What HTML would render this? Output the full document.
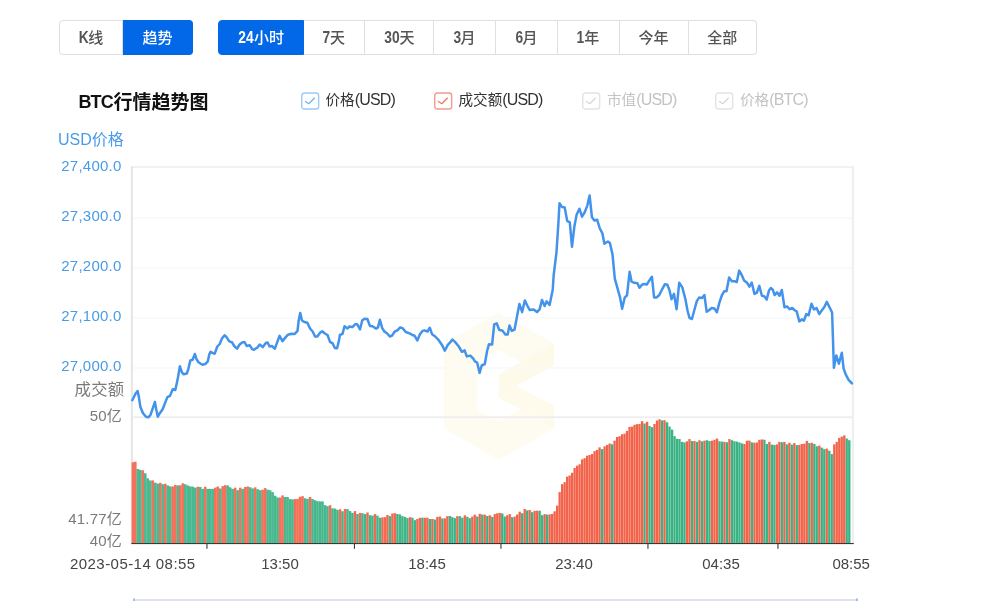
<!DOCTYPE html>
<html lang="zh-CN"><head><meta charset="utf-8"><title>BTC行情趋势图</title>
<style>
html,body{margin:0;padding:0;background:#fff;}
body{width:983px;height:601px;overflow:hidden;position:relative;font-family:"Liberation Sans","Noto Sans CJK SC",sans-serif;color:#333;}
.tabs{position:absolute;top:20px;height:35px;display:flex;}
.tabs div{flex:none;box-sizing:border-box;height:35px;line-height:34px;text-align:center;font-size:15px;font-weight:500;color:#555;border:1px solid #dcdfe6;border-left-width:0;background:#fff;white-space:nowrap;}
.tabs div:first-child{border-left-width:1px;border-radius:4px 0 0 4px;}
.tabs div:last-child{border-radius:0 4px 4px 0;}
.tabs div.on{background:#0368e7;color:#fff;border-color:#0368e7;}
.tabs b{display:inline-block;font-weight:bold;font-size:16px;transform:scaleX(.86);margin:0 -1px;vertical-align:0;}
#t1{left:59px;}
#t2{left:218px;}
.title{position:absolute;left:78.5px;top:88.5px;font-size:19px;font-weight:bold;color:#111;line-height:28px;white-space:nowrap;}
.title span{font-size:18px;letter-spacing:-0.9px;position:relative;top:-1px;margin-right:0.6px;}
.lg{position:absolute;top:92px;height:18px;line-height:18px;font-size:14.6px;white-space:nowrap;color:#333;}
.lg i{position:absolute;left:0;top:0;width:19px;height:19px;}
.lg i svg{position:absolute;left:0;top:0;}
.lg span{position:absolute;left:25px;top:-1.4px;}
.lg span u{text-decoration:none;font-size:16px;letter-spacing:-0.85px;}
.lg.off{color:#c3c3c3;}
.chart{position:absolute;left:0;top:0;}
</style></head><body>
<div class="tabs" id="t1"><div style="width:64px"><b>K</b>线</div><div class="on" style="width:70px">趋势</div></div>
<div class="tabs" id="t2"><div class="on" style="width:86px"><b>24</b>小时</div><div style="width:61px"><b>7</b>天</div><div style="width:69px"><b>30</b>天</div><div style="width:62px"><b>3</b>月</div><div style="width:62px"><b>6</b>月</div><div style="width:61.5px"><b>1</b>年</div><div style="width:69px">今年</div><div style="width:68.5px">全部</div></div>
<div class="title"><span>BTC</span>行情趋势图</div>
<div class="lg" style="left:300.5px"><i><svg width="19" height="19" viewBox="0 0 19 19"><rect x="0.75" y="0.95" width="16.9" height="16.1" rx="2.6" fill="#fff" stroke="#9ccaf8" stroke-width="1.4"/><path d="M4 9.3 L7.9 11.8 L13.7 5.7" fill="none" stroke="#6fb0f5" stroke-width="1.25"/></svg></i><span>价格<u>(USD)</u></span></div>
<div class="lg" style="left:433.5px"><i><svg width="19" height="19" viewBox="0 0 19 19"><rect x="0.75" y="0.95" width="16.9" height="16.1" rx="2.6" fill="#fff" stroke="#f59a8a" stroke-width="1.4"/><path d="M4 9.3 L7.9 11.8 L13.7 5.7" fill="none" stroke="#f2735c" stroke-width="1.25"/></svg></i><span>成交额<u>(USD)</u></span></div>
<div class="lg off" style="left:582px"><i><svg width="19" height="19" viewBox="0 0 19 19"><rect x="0.75" y="0.95" width="16.9" height="16.1" rx="2.6" fill="#fff" stroke="#e3e3e3" stroke-width="1.4"/><path d="M4 9.3 L7.9 11.8 L13.7 5.7" fill="none" stroke="#d6d6d6" stroke-width="1.25"/></svg></i><span>市值<u>(USD)</u></span></div>
<div class="lg off" style="left:715px"><i><svg width="19" height="19" viewBox="0 0 19 19"><rect x="0.75" y="0.95" width="16.9" height="16.1" rx="2.6" fill="#fff" stroke="#e3e3e3" stroke-width="1.4"/><path d="M4 9.3 L7.9 11.8 L13.7 5.7" fill="none" stroke="#d6d6d6" stroke-width="1.25"/></svg></i><span>价格<u>(BTC)</u></span></div>
<svg class="chart" width="983" height="601" viewBox="0 0 983 601">
<g>
<g>
<polygon points="498.6,311.9 554,343.4 554,428.5 498.6,460.1 444.2,428.5 444.2,343.4" fill="#fefcf0"/>
<polygon points="498.8,374.3 520.7,362.1 554,343.4 554,365.6 516.3,385.7 498.8,397.9" fill="#fdfae9"/>
<polygon points="498.8,397.9 516.3,385.7 554,405.8 554,428.5 520.7,409.3" fill="#fefbed"/>
<polygon points="444.2,343.4 477,361.2 477,410.1 444.2,428.5" fill="#fefcf1"/>
<polygon points="477,361.2 498.8,349.9 520.7,362.1 498.8,374.3 498.8,397.9 520.7,409.3 498.8,421.5 477,410.1" fill="#ffffff"/>
<polygon points="516.3,385.7 555,365.2 555,406.2" fill="#ffffff"/>
</g>
<rect x="131" y="166.2" width="723" height="1.9" fill="#f1f1f1"/>
<rect x="133" y="216.9" width="720" height="2" fill="#fafafa"/>
<rect x="133" y="266.9" width="720" height="2" fill="#fafafa"/>
<rect x="133" y="316.9" width="720" height="2" fill="#fafafa"/>
<rect x="133" y="366.9" width="720" height="2" fill="#fafafa"/>
<rect x="133" y="416.3" width="720" height="1.9" fill="#eeeeee"/>
<rect x="851.8" y="166.2" width="2.2" height="377.5" fill="#eeefef"/>
<rect x="130.8" y="166.2" width="2.2" height="377.5" fill="#e7e7e7"/>
<rect x="131.60" y="462.3" width="2.50" height="81.1" fill="#f4725b"/><rect x="134.05" y="462.3" width="1.05" height="81.1" fill="#f4725b"/><rect x="134.10" y="461.7" width="2.50" height="81.7" fill="#f4725b"/><rect x="136.54" y="469.0" width="1.05" height="74.4" fill="#f4725b"/><rect x="136.59" y="469.0" width="2.50" height="74.4" fill="#4cb990"/><rect x="139.04" y="469.9" width="1.05" height="73.5" fill="#4cb990"/><rect x="139.09" y="469.9" width="2.50" height="73.5" fill="#4cb990"/><rect x="141.54" y="470.3" width="1.05" height="73.1" fill="#4cb990"/><rect x="141.59" y="470.3" width="2.50" height="73.1" fill="#f4725b"/><rect x="144.03" y="473.3" width="1.05" height="70.1" fill="#f4725b"/><rect x="144.08" y="473.3" width="2.50" height="70.1" fill="#4cb990"/><rect x="146.53" y="478.4" width="1.05" height="65.0" fill="#4cb990"/><rect x="146.58" y="478.4" width="2.50" height="65.0" fill="#4cb990"/><rect x="149.03" y="480.6" width="1.05" height="62.8" fill="#4cb990"/><rect x="149.08" y="480.6" width="2.50" height="62.8" fill="#4cb990"/><rect x="151.52" y="480.6" width="1.05" height="62.8" fill="#4cb990"/><rect x="151.57" y="480.4" width="2.50" height="63.0" fill="#f4725b"/><rect x="154.02" y="482.8" width="1.05" height="60.6" fill="#f4725b"/><rect x="154.07" y="482.8" width="2.50" height="60.6" fill="#4cb990"/><rect x="156.52" y="483.7" width="1.05" height="59.7" fill="#4cb990"/><rect x="156.57" y="483.7" width="2.50" height="59.7" fill="#4cb990"/><rect x="159.01" y="483.7" width="1.05" height="59.7" fill="#4cb990"/><rect x="159.06" y="482.8" width="2.50" height="60.6" fill="#f4725b"/><rect x="161.51" y="484.3" width="1.05" height="59.1" fill="#f4725b"/><rect x="161.56" y="484.3" width="2.50" height="59.1" fill="#4cb990"/><rect x="164.00" y="484.3" width="1.05" height="59.1" fill="#4cb990"/><rect x="164.05" y="483.7" width="2.50" height="59.7" fill="#f4725b"/><rect x="166.50" y="485.5" width="1.05" height="57.9" fill="#f4725b"/><rect x="166.55" y="485.5" width="2.50" height="57.9" fill="#4cb990"/><rect x="169.00" y="486.5" width="1.05" height="56.9" fill="#4cb990"/><rect x="169.05" y="486.5" width="2.50" height="56.9" fill="#4cb990"/><rect x="171.49" y="486.5" width="1.05" height="56.9" fill="#4cb990"/><rect x="171.54" y="486.5" width="2.50" height="56.9" fill="#f4725b"/><rect x="173.99" y="486.5" width="1.05" height="56.9" fill="#f4725b"/><rect x="174.04" y="484.9" width="2.50" height="58.5" fill="#f4725b"/><rect x="176.49" y="485.5" width="1.05" height="57.9" fill="#f4725b"/><rect x="176.54" y="485.5" width="2.50" height="57.9" fill="#4cb990"/><rect x="178.98" y="485.5" width="1.05" height="57.9" fill="#4cb990"/><rect x="179.03" y="485.3" width="2.50" height="58.1" fill="#f4725b"/><rect x="181.48" y="485.3" width="1.05" height="58.1" fill="#f4725b"/><rect x="181.53" y="483.3" width="2.50" height="60.1" fill="#f4725b"/><rect x="183.98" y="484.3" width="1.05" height="59.1" fill="#f4725b"/><rect x="184.03" y="484.3" width="2.50" height="59.1" fill="#4cb990"/><rect x="186.47" y="485.5" width="1.05" height="57.9" fill="#4cb990"/><rect x="186.52" y="485.5" width="2.50" height="57.9" fill="#4cb990"/><rect x="188.97" y="486.5" width="1.05" height="56.9" fill="#4cb990"/><rect x="189.02" y="486.5" width="2.50" height="56.9" fill="#4cb990"/><rect x="191.47" y="486.7" width="1.05" height="56.7" fill="#4cb990"/><rect x="191.52" y="486.7" width="2.50" height="56.7" fill="#4cb990"/><rect x="193.96" y="487.7" width="1.05" height="55.7" fill="#4cb990"/><rect x="194.01" y="487.7" width="2.50" height="55.7" fill="#4cb990"/><rect x="196.46" y="487.7" width="1.05" height="55.7" fill="#4cb990"/><rect x="196.51" y="486.7" width="2.50" height="56.7" fill="#f4725b"/><rect x="198.96" y="487.0" width="1.05" height="56.4" fill="#f4725b"/><rect x="199.01" y="487.0" width="2.50" height="56.4" fill="#4cb990"/><rect x="201.45" y="488.9" width="1.05" height="54.5" fill="#4cb990"/><rect x="201.50" y="488.9" width="2.50" height="54.5" fill="#4cb990"/><rect x="203.95" y="488.9" width="1.05" height="54.5" fill="#4cb990"/><rect x="204.00" y="486.7" width="2.50" height="56.7" fill="#f4725b"/><rect x="206.45" y="488.9" width="1.05" height="54.5" fill="#f4725b"/><rect x="206.50" y="488.9" width="2.50" height="54.5" fill="#4cb990"/><rect x="208.94" y="488.9" width="1.05" height="54.5" fill="#4cb990"/><rect x="208.99" y="488.9" width="2.50" height="54.5" fill="#4cb990"/><rect x="211.44" y="488.9" width="1.05" height="54.5" fill="#4cb990"/><rect x="211.49" y="488.9" width="2.50" height="54.5" fill="#4cb990"/><rect x="213.94" y="488.9" width="1.05" height="54.5" fill="#4cb990"/><rect x="213.99" y="487.7" width="2.50" height="55.7" fill="#f4725b"/><rect x="216.43" y="487.7" width="1.05" height="55.7" fill="#f4725b"/><rect x="216.48" y="486.5" width="2.50" height="56.9" fill="#f4725b"/><rect x="218.93" y="488.6" width="1.05" height="54.8" fill="#f4725b"/><rect x="218.98" y="488.6" width="2.50" height="54.8" fill="#4cb990"/><rect x="221.42" y="488.6" width="1.05" height="54.8" fill="#4cb990"/><rect x="221.47" y="486.1" width="2.50" height="57.3" fill="#f4725b"/><rect x="223.92" y="486.1" width="1.05" height="57.3" fill="#f4725b"/><rect x="223.97" y="485.2" width="2.50" height="58.2" fill="#f4725b"/><rect x="226.42" y="485.5" width="1.05" height="57.9" fill="#f4725b"/><rect x="226.47" y="485.5" width="2.50" height="57.9" fill="#4cb990"/><rect x="228.91" y="487.4" width="1.05" height="56.0" fill="#4cb990"/><rect x="228.96" y="487.4" width="2.50" height="56.0" fill="#4cb990"/><rect x="231.41" y="488.9" width="1.05" height="54.5" fill="#4cb990"/><rect x="231.46" y="488.9" width="2.50" height="54.5" fill="#4cb990"/><rect x="233.91" y="488.9" width="1.05" height="54.5" fill="#4cb990"/><rect x="233.96" y="487.7" width="2.50" height="55.7" fill="#f4725b"/><rect x="236.40" y="490.2" width="1.05" height="53.2" fill="#f4725b"/><rect x="236.45" y="490.2" width="2.50" height="53.2" fill="#4cb990"/><rect x="238.90" y="490.2" width="1.05" height="53.2" fill="#4cb990"/><rect x="238.95" y="487.7" width="2.50" height="55.7" fill="#f4725b"/><rect x="241.40" y="488.9" width="1.05" height="54.5" fill="#f4725b"/><rect x="241.45" y="488.9" width="2.50" height="54.5" fill="#4cb990"/><rect x="243.89" y="488.9" width="1.05" height="54.5" fill="#4cb990"/><rect x="243.94" y="487.0" width="2.50" height="56.4" fill="#f4725b"/><rect x="246.39" y="487.0" width="1.05" height="56.4" fill="#f4725b"/><rect x="246.44" y="486.5" width="2.50" height="56.9" fill="#f4725b"/><rect x="248.89" y="487.3" width="1.05" height="56.1" fill="#f4725b"/><rect x="248.94" y="487.3" width="2.50" height="56.1" fill="#4bb98f"/><rect x="251.38" y="488.5" width="1.05" height="54.9" fill="#4bb98f"/><rect x="251.43" y="488.5" width="2.50" height="54.9" fill="#4bb98f"/><rect x="253.88" y="488.5" width="1.05" height="54.9" fill="#4bb98f"/><rect x="253.93" y="487.3" width="2.50" height="56.1" fill="#f4715a"/><rect x="256.38" y="489.3" width="1.05" height="54.1" fill="#f4715a"/><rect x="256.43" y="489.3" width="2.50" height="54.1" fill="#4bb98f"/><rect x="258.87" y="490.3" width="1.05" height="53.1" fill="#4bb98f"/><rect x="258.92" y="490.3" width="2.50" height="53.1" fill="#4bb98f"/><rect x="261.37" y="490.3" width="1.05" height="53.1" fill="#4bb98f"/><rect x="261.42" y="489.7" width="2.50" height="53.7" fill="#f4715a"/><rect x="263.87" y="489.7" width="1.05" height="53.7" fill="#f4715a"/><rect x="263.92" y="488.1" width="2.50" height="55.3" fill="#f4715a"/><rect x="266.36" y="489.7" width="1.05" height="53.7" fill="#f4715a"/><rect x="266.41" y="489.7" width="2.50" height="53.7" fill="#4ab98f"/><rect x="268.86" y="490.3" width="1.05" height="53.1" fill="#4ab98f"/><rect x="268.91" y="490.3" width="2.50" height="53.1" fill="#4ab98f"/><rect x="271.36" y="492.1" width="1.05" height="51.3" fill="#4ab98f"/><rect x="271.41" y="492.1" width="2.50" height="51.3" fill="#4ab98e"/><rect x="273.85" y="495.8" width="1.05" height="47.6" fill="#4ab98e"/><rect x="273.90" y="495.8" width="2.50" height="47.6" fill="#49b88e"/><rect x="276.35" y="497.6" width="1.05" height="45.8" fill="#49b88e"/><rect x="276.40" y="497.6" width="2.50" height="45.8" fill="#49b88e"/><rect x="278.85" y="497.6" width="1.05" height="45.8" fill="#49b88e"/><rect x="278.90" y="497.6" width="2.50" height="45.8" fill="#f47059"/><rect x="281.34" y="497.6" width="1.05" height="45.8" fill="#f47059"/><rect x="281.39" y="495.4" width="2.50" height="48.0" fill="#f47058"/><rect x="283.84" y="497.0" width="1.05" height="46.4" fill="#f47058"/><rect x="283.89" y="497.0" width="2.50" height="46.4" fill="#49b88e"/><rect x="286.33" y="497.0" width="1.05" height="46.4" fill="#49b88e"/><rect x="286.38" y="497.0" width="2.50" height="46.4" fill="#49b88e"/><rect x="288.83" y="499.1" width="1.05" height="44.3" fill="#49b88e"/><rect x="288.88" y="499.1" width="2.50" height="44.3" fill="#48b88e"/><rect x="291.33" y="499.5" width="1.05" height="43.9" fill="#48b88e"/><rect x="291.38" y="499.5" width="2.50" height="43.9" fill="#48b88d"/><rect x="293.82" y="499.5" width="1.05" height="43.9" fill="#48b88d"/><rect x="293.87" y="499.1" width="2.50" height="44.3" fill="#f46f58"/><rect x="296.32" y="499.1" width="1.05" height="44.3" fill="#f46f58"/><rect x="296.37" y="498.9" width="2.50" height="44.5" fill="#f46f57"/><rect x="298.82" y="498.9" width="1.05" height="44.5" fill="#f46f57"/><rect x="298.87" y="496.8" width="2.50" height="46.6" fill="#f46f57"/><rect x="301.31" y="496.8" width="1.05" height="46.6" fill="#f46f57"/><rect x="301.36" y="496.2" width="2.50" height="47.2" fill="#f46f57"/><rect x="303.81" y="498.3" width="1.05" height="45.1" fill="#f46f57"/><rect x="303.86" y="498.3" width="2.50" height="45.1" fill="#47b88d"/><rect x="306.31" y="498.9" width="1.05" height="44.5" fill="#47b88d"/><rect x="306.36" y="498.9" width="2.50" height="44.5" fill="#47b88d"/><rect x="308.80" y="498.9" width="1.05" height="44.5" fill="#47b88d"/><rect x="308.85" y="497.0" width="2.50" height="46.4" fill="#f46e57"/><rect x="311.30" y="499.1" width="1.05" height="44.3" fill="#f46e57"/><rect x="311.35" y="499.1" width="2.50" height="44.3" fill="#47b78d"/><rect x="313.80" y="500.3" width="1.05" height="43.1" fill="#47b78d"/><rect x="313.85" y="500.3" width="2.50" height="43.1" fill="#46b78c"/><rect x="316.29" y="501.3" width="1.05" height="42.1" fill="#46b78c"/><rect x="316.34" y="501.3" width="2.50" height="42.1" fill="#46b78c"/><rect x="318.79" y="501.5" width="1.05" height="41.9" fill="#46b78c"/><rect x="318.84" y="501.5" width="2.50" height="41.9" fill="#46b78c"/><rect x="321.29" y="501.5" width="1.05" height="41.9" fill="#46b78c"/><rect x="321.34" y="501.5" width="2.50" height="41.9" fill="#46b78c"/><rect x="323.78" y="505.2" width="1.05" height="38.2" fill="#46b78c"/><rect x="323.83" y="505.2" width="2.50" height="38.2" fill="#46b78c"/><rect x="326.28" y="506.2" width="1.05" height="37.2" fill="#46b78c"/><rect x="326.33" y="506.2" width="2.50" height="37.2" fill="#46b78c"/><rect x="328.78" y="506.2" width="1.05" height="37.2" fill="#46b78c"/><rect x="328.83" y="505.2" width="2.50" height="38.2" fill="#f46d55"/><rect x="331.27" y="508.4" width="1.05" height="35.0" fill="#f46d55"/><rect x="331.32" y="508.4" width="2.50" height="35.0" fill="#45b78c"/><rect x="333.77" y="508.6" width="1.05" height="34.8" fill="#45b78c"/><rect x="333.82" y="508.6" width="2.50" height="34.8" fill="#45b78b"/><rect x="336.27" y="509.9" width="1.05" height="33.5" fill="#45b78b"/><rect x="336.32" y="509.9" width="2.50" height="33.5" fill="#45b78b"/><rect x="338.76" y="509.9" width="1.05" height="33.5" fill="#45b78b"/><rect x="338.81" y="509.2" width="2.50" height="34.2" fill="#f46c54"/><rect x="341.26" y="511.3" width="1.05" height="32.1" fill="#f46c54"/><rect x="341.31" y="511.3" width="2.50" height="32.1" fill="#44b68b"/><rect x="343.75" y="511.3" width="1.05" height="32.1" fill="#44b68b"/><rect x="343.80" y="509.0" width="2.50" height="34.4" fill="#f36c54"/><rect x="346.25" y="509.2" width="1.05" height="34.2" fill="#f36c54"/><rect x="346.30" y="509.2" width="2.50" height="34.2" fill="#44b68b"/><rect x="348.75" y="511.1" width="1.05" height="32.3" fill="#44b68b"/><rect x="348.80" y="511.1" width="2.50" height="32.3" fill="#44b68b"/><rect x="351.24" y="512.9" width="1.05" height="30.5" fill="#44b68b"/><rect x="351.29" y="512.9" width="2.50" height="30.5" fill="#44b68b"/><rect x="353.74" y="512.9" width="1.05" height="30.5" fill="#44b68b"/><rect x="353.79" y="511.1" width="2.50" height="32.3" fill="#f36b53"/><rect x="356.24" y="514.1" width="1.05" height="29.3" fill="#f36b53"/><rect x="356.29" y="514.1" width="2.50" height="29.3" fill="#43b68a"/><rect x="358.73" y="514.1" width="1.05" height="29.3" fill="#43b68a"/><rect x="358.78" y="512.9" width="2.50" height="30.5" fill="#f36b53"/><rect x="361.23" y="513.3" width="1.05" height="30.1" fill="#f36b53"/><rect x="361.28" y="513.3" width="2.50" height="30.1" fill="#43b68a"/><rect x="363.73" y="514.1" width="1.05" height="29.3" fill="#43b68a"/><rect x="363.78" y="514.1" width="2.50" height="29.3" fill="#43b68a"/><rect x="366.22" y="514.1" width="1.05" height="29.3" fill="#43b68a"/><rect x="366.27" y="512.5" width="2.50" height="30.9" fill="#f36b52"/><rect x="368.72" y="515.3" width="1.05" height="28.1" fill="#f36b52"/><rect x="368.77" y="515.3" width="2.50" height="28.1" fill="#42b68a"/><rect x="371.22" y="515.7" width="1.05" height="27.7" fill="#42b68a"/><rect x="371.27" y="515.7" width="2.50" height="27.7" fill="#42b68a"/><rect x="373.71" y="515.7" width="1.05" height="27.7" fill="#42b68a"/><rect x="373.76" y="514.1" width="2.50" height="29.3" fill="#f36a52"/><rect x="376.21" y="515.7" width="1.05" height="27.7" fill="#f36a52"/><rect x="376.26" y="515.7" width="2.50" height="27.7" fill="#42b589"/><rect x="378.71" y="517.8" width="1.05" height="25.6" fill="#42b589"/><rect x="378.76" y="517.8" width="2.50" height="25.6" fill="#41b589"/><rect x="381.20" y="517.8" width="1.05" height="25.6" fill="#41b589"/><rect x="381.25" y="517.4" width="2.50" height="26.0" fill="#f36a51"/><rect x="383.70" y="517.4" width="1.05" height="26.0" fill="#f36a51"/><rect x="383.75" y="517.2" width="2.50" height="26.2" fill="#f36a51"/><rect x="386.20" y="517.2" width="1.05" height="26.2" fill="#f36a51"/><rect x="386.25" y="515.0" width="2.50" height="28.4" fill="#f36951"/><rect x="388.69" y="516.2" width="1.05" height="27.2" fill="#f36951"/><rect x="388.74" y="516.2" width="2.50" height="27.2" fill="#41b589"/><rect x="391.19" y="516.2" width="1.05" height="27.2" fill="#41b589"/><rect x="391.24" y="513.5" width="2.50" height="29.9" fill="#f36951"/><rect x="393.69" y="513.5" width="1.05" height="29.9" fill="#f36951"/><rect x="393.74" y="513.3" width="2.50" height="30.1" fill="#f36950"/><rect x="396.18" y="514.1" width="1.05" height="29.3" fill="#f36950"/><rect x="396.23" y="514.1" width="2.50" height="29.3" fill="#40b588"/><rect x="398.68" y="514.5" width="1.05" height="28.9" fill="#40b588"/><rect x="398.73" y="514.5" width="2.50" height="28.9" fill="#40b588"/><rect x="401.17" y="516.2" width="1.05" height="27.2" fill="#40b588"/><rect x="401.23" y="516.2" width="2.50" height="27.2" fill="#40b588"/><rect x="403.67" y="516.9" width="1.05" height="26.5" fill="#40b588"/><rect x="403.72" y="516.9" width="2.50" height="26.5" fill="#3fb588"/><rect x="406.17" y="518.2" width="1.05" height="25.2" fill="#3fb588"/><rect x="406.22" y="518.2" width="2.50" height="25.2" fill="#3fb488"/><rect x="408.66" y="518.2" width="1.05" height="25.2" fill="#3fb488"/><rect x="408.71" y="517.2" width="2.50" height="26.2" fill="#f3684f"/><rect x="411.16" y="517.8" width="1.05" height="25.6" fill="#f3684f"/><rect x="411.21" y="517.8" width="2.50" height="25.6" fill="#3fb488"/><rect x="413.66" y="520.2" width="1.05" height="23.2" fill="#3fb488"/><rect x="413.71" y="520.2" width="2.50" height="23.2" fill="#3fb488"/><rect x="416.15" y="520.2" width="1.05" height="23.2" fill="#3fb488"/><rect x="416.20" y="519.0" width="2.50" height="24.4" fill="#f3674f"/><rect x="418.65" y="519.0" width="1.05" height="24.4" fill="#f3674f"/><rect x="418.70" y="517.8" width="2.50" height="25.6" fill="#f3674f"/><rect x="421.15" y="517.8" width="1.05" height="25.6" fill="#f3674f"/><rect x="421.20" y="517.8" width="2.50" height="25.6" fill="#3eb487"/><rect x="423.64" y="517.8" width="1.05" height="25.6" fill="#3eb487"/><rect x="423.69" y="517.8" width="2.50" height="25.6" fill="#f3674e"/><rect x="426.14" y="517.8" width="1.05" height="25.6" fill="#f3674e"/><rect x="426.19" y="517.8" width="2.50" height="25.6" fill="#f3674e"/><rect x="428.64" y="519.0" width="1.05" height="24.4" fill="#f3674e"/><rect x="428.69" y="519.0" width="2.50" height="24.4" fill="#3db487"/><rect x="431.13" y="519.0" width="1.05" height="24.4" fill="#3db487"/><rect x="431.18" y="519.0" width="2.50" height="24.4" fill="#f3664e"/><rect x="433.63" y="519.6" width="1.05" height="23.8" fill="#f3664e"/><rect x="433.68" y="519.6" width="2.50" height="23.8" fill="#3db486"/><rect x="436.13" y="519.6" width="1.05" height="23.8" fill="#3db486"/><rect x="436.18" y="516.9" width="2.50" height="26.5" fill="#f3664d"/><rect x="438.62" y="516.9" width="1.05" height="26.5" fill="#f3664d"/><rect x="438.67" y="516.6" width="2.50" height="26.8" fill="#f3664d"/><rect x="441.12" y="518.6" width="1.05" height="24.8" fill="#f3664d"/><rect x="441.17" y="518.6" width="2.50" height="24.8" fill="#3cb386"/><rect x="443.62" y="518.6" width="1.05" height="24.8" fill="#3cb386"/><rect x="443.67" y="518.4" width="2.50" height="25.0" fill="#f3664d"/><rect x="446.11" y="518.4" width="1.05" height="25.0" fill="#f3664d"/><rect x="446.16" y="516.2" width="2.50" height="27.2" fill="#f3654c"/><rect x="448.61" y="516.2" width="1.05" height="27.2" fill="#f3654c"/><rect x="448.66" y="516.0" width="2.50" height="27.4" fill="#3cb386"/><rect x="451.11" y="517.2" width="1.05" height="26.2" fill="#3cb386"/><rect x="451.16" y="517.2" width="2.50" height="26.2" fill="#3bb386"/><rect x="453.60" y="518.2" width="1.05" height="25.2" fill="#3bb386"/><rect x="453.65" y="518.2" width="2.50" height="25.2" fill="#3bb385"/><rect x="456.10" y="518.2" width="1.05" height="25.2" fill="#3bb385"/><rect x="456.15" y="516.2" width="2.50" height="27.2" fill="#f3654c"/><rect x="458.60" y="516.2" width="1.05" height="27.2" fill="#f3654c"/><rect x="458.65" y="516.2" width="2.50" height="27.2" fill="#3bb385"/><rect x="461.09" y="517.8" width="1.05" height="25.6" fill="#3bb385"/><rect x="461.14" y="517.8" width="2.50" height="25.6" fill="#3bb385"/><rect x="463.59" y="517.8" width="1.05" height="25.6" fill="#3bb385"/><rect x="463.64" y="515.3" width="2.50" height="28.1" fill="#f3644b"/><rect x="466.08" y="516.9" width="1.05" height="26.5" fill="#f3644b"/><rect x="466.13" y="516.9" width="2.50" height="26.5" fill="#3ab285"/><rect x="468.58" y="518.2" width="1.05" height="25.2" fill="#3ab285"/><rect x="468.63" y="518.2" width="2.50" height="25.2" fill="#3ab285"/><rect x="471.08" y="518.2" width="1.05" height="25.2" fill="#3ab285"/><rect x="471.13" y="516.6" width="2.50" height="26.8" fill="#f3644b"/><rect x="473.57" y="516.6" width="1.05" height="26.8" fill="#f3644b"/><rect x="473.62" y="514.7" width="2.50" height="28.7" fill="#f3644a"/><rect x="476.07" y="516.6" width="1.05" height="26.8" fill="#f3644a"/><rect x="476.12" y="516.6" width="2.50" height="26.8" fill="#39b284"/><rect x="478.57" y="516.6" width="1.05" height="26.8" fill="#39b284"/><rect x="478.62" y="513.8" width="2.50" height="29.6" fill="#f3634a"/><rect x="481.06" y="514.7" width="1.05" height="28.7" fill="#f3634a"/><rect x="481.11" y="514.7" width="2.50" height="28.7" fill="#39b284"/><rect x="483.56" y="514.7" width="1.05" height="28.7" fill="#39b284"/><rect x="483.61" y="514.7" width="2.50" height="28.7" fill="#f3634a"/><rect x="486.06" y="516.0" width="1.05" height="27.4" fill="#f3634a"/><rect x="486.11" y="516.0" width="2.50" height="27.4" fill="#39b284"/><rect x="488.55" y="516.0" width="1.05" height="27.4" fill="#39b284"/><rect x="488.60" y="515.3" width="2.50" height="28.1" fill="#f3634a"/><rect x="491.05" y="516.9" width="1.05" height="26.5" fill="#f3634a"/><rect x="491.10" y="516.9" width="2.50" height="26.5" fill="#39b284"/><rect x="493.55" y="516.9" width="1.05" height="26.5" fill="#39b284"/><rect x="493.60" y="514.1" width="2.50" height="29.3" fill="#f3634a"/><rect x="496.04" y="514.1" width="1.05" height="29.3" fill="#f3634a"/><rect x="496.09" y="513.3" width="2.50" height="30.1" fill="#f3634a"/><rect x="498.54" y="513.3" width="1.05" height="30.1" fill="#f3634a"/><rect x="498.59" y="512.9" width="2.50" height="30.5" fill="#f3634a"/><rect x="501.04" y="513.5" width="1.05" height="29.9" fill="#f3634a"/><rect x="501.09" y="513.5" width="2.50" height="29.9" fill="#39b284"/><rect x="503.53" y="516.6" width="1.05" height="26.8" fill="#39b284"/><rect x="503.58" y="516.6" width="2.50" height="26.8" fill="#39b284"/><rect x="506.03" y="516.6" width="1.05" height="26.8" fill="#39b284"/><rect x="506.08" y="515.3" width="2.50" height="28.1" fill="#f3634a"/><rect x="508.53" y="515.3" width="1.05" height="28.1" fill="#f3634a"/><rect x="508.58" y="514.1" width="2.50" height="29.3" fill="#f3634a"/><rect x="511.02" y="517.2" width="1.05" height="26.2" fill="#f3634a"/><rect x="511.07" y="517.2" width="2.50" height="26.2" fill="#39b284"/><rect x="513.52" y="517.2" width="1.05" height="26.2" fill="#39b284"/><rect x="513.57" y="516.6" width="2.50" height="26.8" fill="#f3634a"/><rect x="516.02" y="516.6" width="1.05" height="26.8" fill="#f3634a"/><rect x="516.07" y="514.5" width="2.50" height="28.9" fill="#f3634a"/><rect x="518.51" y="514.5" width="1.05" height="28.9" fill="#f3634a"/><rect x="518.56" y="511.7" width="2.50" height="31.7" fill="#f3634a"/><rect x="521.01" y="513.3" width="1.05" height="30.1" fill="#f3634a"/><rect x="521.06" y="513.3" width="2.50" height="30.1" fill="#39b284"/><rect x="523.50" y="513.3" width="1.05" height="30.1" fill="#39b284"/><rect x="523.55" y="509.0" width="2.50" height="34.4" fill="#f3634a"/><rect x="526.00" y="510.5" width="1.05" height="32.9" fill="#f3634a"/><rect x="526.05" y="510.5" width="2.50" height="32.9" fill="#39b284"/><rect x="528.50" y="510.5" width="1.05" height="32.9" fill="#39b284"/><rect x="528.55" y="510.1" width="2.50" height="33.3" fill="#f3634a"/><rect x="530.99" y="512.3" width="1.05" height="31.1" fill="#f3634a"/><rect x="531.04" y="512.3" width="2.50" height="31.1" fill="#39b284"/><rect x="533.49" y="512.3" width="1.05" height="31.1" fill="#39b284"/><rect x="533.54" y="510.8" width="2.50" height="32.6" fill="#f3634a"/><rect x="535.99" y="510.8" width="1.05" height="32.6" fill="#f3634a"/><rect x="536.04" y="510.8" width="2.50" height="32.6" fill="#f3634a"/><rect x="538.48" y="510.8" width="1.05" height="32.6" fill="#f3634a"/><rect x="538.53" y="510.8" width="2.50" height="32.6" fill="#39b284"/><rect x="540.98" y="515.3" width="1.05" height="28.1" fill="#39b284"/><rect x="541.03" y="515.3" width="2.50" height="28.1" fill="#39b284"/><rect x="543.48" y="515.3" width="1.05" height="28.1" fill="#39b284"/><rect x="543.53" y="514.1" width="2.50" height="29.3" fill="#f3634a"/><rect x="545.97" y="514.7" width="1.05" height="28.7" fill="#f3634a"/><rect x="546.02" y="514.7" width="2.50" height="28.7" fill="#39b284"/><rect x="548.47" y="514.7" width="1.05" height="28.7" fill="#39b284"/><rect x="548.52" y="514.5" width="2.50" height="28.9" fill="#f3634a"/><rect x="550.97" y="514.5" width="1.05" height="28.9" fill="#f3634a"/><rect x="551.02" y="513.9" width="2.50" height="29.5" fill="#f3634a"/><rect x="553.46" y="513.9" width="1.05" height="29.5" fill="#f3634a"/><rect x="553.51" y="511.3" width="2.50" height="32.1" fill="#f3634a"/><rect x="555.96" y="511.3" width="1.05" height="32.1" fill="#f3634a"/><rect x="556.01" y="505.6" width="2.50" height="37.8" fill="#f3634a"/><rect x="558.46" y="505.6" width="1.05" height="37.8" fill="#f3634a"/><rect x="558.51" y="492.1" width="2.50" height="51.3" fill="#f3634a"/><rect x="560.95" y="492.1" width="1.05" height="51.3" fill="#f3634a"/><rect x="561.00" y="484.2" width="2.50" height="59.2" fill="#f3634a"/><rect x="563.45" y="484.2" width="1.05" height="59.2" fill="#f3634a"/><rect x="563.50" y="482.2" width="2.50" height="61.2" fill="#f3634a"/><rect x="565.95" y="482.2" width="1.05" height="61.2" fill="#f3634a"/><rect x="566.00" y="476.7" width="2.50" height="66.7" fill="#f3634a"/><rect x="568.44" y="476.7" width="1.05" height="66.7" fill="#f3634a"/><rect x="568.49" y="475.5" width="2.50" height="67.9" fill="#f3634a"/><rect x="570.94" y="475.5" width="1.05" height="67.9" fill="#f3634a"/><rect x="570.99" y="472.8" width="2.50" height="70.6" fill="#f3634a"/><rect x="573.44" y="472.8" width="1.05" height="70.6" fill="#f3634a"/><rect x="573.49" y="467.9" width="2.50" height="75.5" fill="#f3634a"/><rect x="575.93" y="467.9" width="1.05" height="75.5" fill="#f3634a"/><rect x="575.98" y="465.7" width="2.50" height="77.7" fill="#f3634a"/><rect x="578.43" y="465.7" width="1.05" height="77.7" fill="#f3634a"/><rect x="578.48" y="464.3" width="2.50" height="79.1" fill="#f3634a"/><rect x="580.93" y="464.3" width="1.05" height="79.1" fill="#f3634a"/><rect x="580.98" y="459.4" width="2.50" height="84.0" fill="#f3634a"/><rect x="583.42" y="459.4" width="1.05" height="84.0" fill="#f3634a"/><rect x="583.47" y="458.2" width="2.50" height="85.2" fill="#f3634a"/><rect x="585.92" y="458.2" width="1.05" height="85.2" fill="#f3634a"/><rect x="585.97" y="455.7" width="2.50" height="87.7" fill="#f3634a"/><rect x="588.41" y="455.7" width="1.05" height="87.7" fill="#f3634a"/><rect x="588.46" y="455.0" width="2.50" height="88.4" fill="#f3634a"/><rect x="590.91" y="455.0" width="1.05" height="88.4" fill="#f3634a"/><rect x="590.96" y="454.1" width="2.50" height="89.3" fill="#f3634a"/><rect x="593.41" y="454.1" width="1.05" height="89.3" fill="#f3634a"/><rect x="593.46" y="451.1" width="2.50" height="92.3" fill="#f3634a"/><rect x="595.90" y="451.1" width="1.05" height="92.3" fill="#f3634a"/><rect x="595.95" y="449.9" width="2.50" height="93.5" fill="#f3634a"/><rect x="598.40" y="449.9" width="1.05" height="93.5" fill="#f3634a"/><rect x="598.45" y="447.4" width="2.50" height="96.0" fill="#f3634a"/><rect x="600.90" y="449.2" width="1.05" height="94.2" fill="#f3634a"/><rect x="600.95" y="449.2" width="2.50" height="94.2" fill="#39b284"/><rect x="603.39" y="449.2" width="1.05" height="94.2" fill="#39b284"/><rect x="603.44" y="446.4" width="2.50" height="97.0" fill="#f3634a"/><rect x="605.89" y="446.4" width="1.05" height="97.0" fill="#f3634a"/><rect x="605.94" y="445.0" width="2.50" height="98.4" fill="#f3634a"/><rect x="608.39" y="445.0" width="1.05" height="98.4" fill="#f3634a"/><rect x="608.44" y="443.5" width="2.50" height="99.9" fill="#f3634a"/><rect x="610.88" y="444.4" width="1.05" height="99.0" fill="#f3634a"/><rect x="610.93" y="444.4" width="2.50" height="99.0" fill="#39b284"/><rect x="613.38" y="444.4" width="1.05" height="99.0" fill="#39b284"/><rect x="613.43" y="440.7" width="2.50" height="102.7" fill="#f3634a"/><rect x="615.88" y="440.7" width="1.05" height="102.7" fill="#f3634a"/><rect x="615.93" y="437.0" width="2.50" height="106.4" fill="#f3634a"/><rect x="618.37" y="437.0" width="1.05" height="106.4" fill="#f3634a"/><rect x="618.42" y="436.2" width="2.50" height="107.2" fill="#f3634a"/><rect x="620.87" y="436.2" width="1.05" height="107.2" fill="#f3634a"/><rect x="620.92" y="434.3" width="2.50" height="109.1" fill="#f3634a"/><rect x="623.37" y="434.3" width="1.05" height="109.1" fill="#f3634a"/><rect x="623.42" y="433.7" width="2.50" height="109.7" fill="#f3634a"/><rect x="625.86" y="433.7" width="1.05" height="109.7" fill="#f3634a"/><rect x="625.91" y="430.9" width="2.50" height="112.5" fill="#f3634a"/><rect x="628.36" y="430.9" width="1.05" height="112.5" fill="#f3634a"/><rect x="628.41" y="426.9" width="2.50" height="116.5" fill="#f3634a"/><rect x="630.86" y="426.9" width="1.05" height="116.5" fill="#f3634a"/><rect x="630.91" y="426.7" width="2.50" height="116.7" fill="#f3634a"/><rect x="633.35" y="426.7" width="1.05" height="116.7" fill="#f3634a"/><rect x="633.40" y="424.8" width="2.50" height="118.6" fill="#f3634a"/><rect x="635.85" y="424.8" width="1.05" height="118.6" fill="#f3634a"/><rect x="635.90" y="424.2" width="2.50" height="119.2" fill="#f3634a"/><rect x="638.35" y="424.2" width="1.05" height="119.2" fill="#f3634a"/><rect x="638.40" y="424.0" width="2.50" height="119.4" fill="#f3634a"/><rect x="640.84" y="424.0" width="1.05" height="119.4" fill="#f3634a"/><rect x="640.89" y="421.2" width="2.50" height="122.2" fill="#f3634a"/><rect x="643.34" y="423.6" width="1.05" height="119.8" fill="#f3634a"/><rect x="643.39" y="423.6" width="2.50" height="119.8" fill="#39b284"/><rect x="645.83" y="423.6" width="1.05" height="119.8" fill="#39b284"/><rect x="645.88" y="421.8" width="2.50" height="121.6" fill="#f3634a"/><rect x="648.33" y="426.0" width="1.05" height="117.4" fill="#f3634a"/><rect x="648.38" y="426.0" width="2.50" height="117.4" fill="#39b284"/><rect x="650.83" y="427.3" width="1.05" height="116.1" fill="#39b284"/><rect x="650.88" y="427.3" width="2.50" height="116.1" fill="#39b284"/><rect x="653.32" y="427.3" width="1.05" height="116.1" fill="#39b284"/><rect x="653.37" y="424.0" width="2.50" height="119.4" fill="#f3634a"/><rect x="655.82" y="424.0" width="1.05" height="119.4" fill="#f3634a"/><rect x="655.87" y="420.5" width="2.50" height="122.9" fill="#f3634a"/><rect x="658.32" y="420.5" width="1.05" height="122.9" fill="#f3634a"/><rect x="658.37" y="419.3" width="2.50" height="124.1" fill="#f3634a"/><rect x="660.81" y="420.5" width="1.05" height="122.9" fill="#f3634a"/><rect x="660.86" y="420.5" width="2.50" height="122.9" fill="#39b284"/><rect x="663.31" y="420.5" width="1.05" height="122.9" fill="#39b284"/><rect x="663.36" y="420.3" width="2.50" height="123.1" fill="#f3634a"/><rect x="665.81" y="422.4" width="1.05" height="121.0" fill="#f3634a"/><rect x="665.86" y="422.4" width="2.50" height="121.0" fill="#39b284"/><rect x="668.30" y="426.7" width="1.05" height="116.7" fill="#39b284"/><rect x="668.35" y="426.7" width="2.50" height="116.7" fill="#39b284"/><rect x="670.80" y="429.7" width="1.05" height="113.7" fill="#39b284"/><rect x="670.85" y="429.7" width="2.50" height="113.7" fill="#39b284"/><rect x="673.30" y="436.2" width="1.05" height="107.2" fill="#39b284"/><rect x="673.35" y="436.2" width="2.50" height="107.2" fill="#39b284"/><rect x="675.79" y="438.9" width="1.05" height="104.5" fill="#39b284"/><rect x="675.84" y="438.9" width="2.50" height="104.5" fill="#39b284"/><rect x="678.29" y="439.1" width="1.05" height="104.3" fill="#39b284"/><rect x="678.34" y="439.1" width="2.50" height="104.3" fill="#39b284"/><rect x="680.79" y="441.9" width="1.05" height="101.5" fill="#39b284"/><rect x="680.84" y="441.9" width="2.50" height="101.5" fill="#39b284"/><rect x="683.28" y="442.5" width="1.05" height="100.9" fill="#39b284"/><rect x="683.33" y="442.5" width="2.50" height="100.9" fill="#39b284"/><rect x="685.78" y="442.5" width="1.05" height="100.9" fill="#39b284"/><rect x="685.83" y="441.3" width="2.50" height="102.1" fill="#f3634a"/><rect x="688.28" y="441.3" width="1.05" height="102.1" fill="#f3634a"/><rect x="688.33" y="439.1" width="2.50" height="104.3" fill="#f3634a"/><rect x="690.77" y="441.1" width="1.05" height="102.3" fill="#f3634a"/><rect x="690.82" y="441.1" width="2.50" height="102.3" fill="#39b284"/><rect x="693.27" y="441.1" width="1.05" height="102.3" fill="#39b284"/><rect x="693.32" y="441.1" width="2.50" height="102.3" fill="#f3634a"/><rect x="695.77" y="441.9" width="1.05" height="101.5" fill="#f3634a"/><rect x="695.82" y="441.9" width="2.50" height="101.5" fill="#39b284"/><rect x="698.26" y="441.9" width="1.05" height="101.5" fill="#39b284"/><rect x="698.31" y="440.3" width="2.50" height="103.1" fill="#f3634a"/><rect x="700.76" y="441.5" width="1.05" height="101.9" fill="#f3634a"/><rect x="700.81" y="441.5" width="2.50" height="101.9" fill="#39b284"/><rect x="703.25" y="441.5" width="1.05" height="101.9" fill="#39b284"/><rect x="703.30" y="440.7" width="2.50" height="102.7" fill="#f3634a"/><rect x="705.75" y="440.7" width="1.05" height="102.7" fill="#f3634a"/><rect x="705.80" y="440.3" width="2.50" height="103.1" fill="#39b284"/><rect x="708.25" y="441.1" width="1.05" height="102.3" fill="#39b284"/><rect x="708.30" y="441.1" width="2.50" height="102.3" fill="#39b284"/><rect x="710.74" y="441.1" width="1.05" height="102.3" fill="#39b284"/><rect x="710.79" y="440.7" width="2.50" height="102.7" fill="#f3634a"/><rect x="713.24" y="440.7" width="1.05" height="102.7" fill="#f3634a"/><rect x="713.29" y="439.8" width="2.50" height="103.6" fill="#f3634a"/><rect x="715.74" y="439.8" width="1.05" height="103.6" fill="#f3634a"/><rect x="715.79" y="438.6" width="2.50" height="104.8" fill="#f3634a"/><rect x="718.23" y="441.3" width="1.05" height="102.1" fill="#f3634a"/><rect x="718.28" y="441.3" width="2.50" height="102.1" fill="#39b284"/><rect x="720.73" y="441.7" width="1.05" height="101.7" fill="#39b284"/><rect x="720.78" y="441.7" width="2.50" height="101.7" fill="#39b284"/><rect x="723.23" y="441.9" width="1.05" height="101.5" fill="#39b284"/><rect x="723.28" y="441.9" width="2.50" height="101.5" fill="#f3634a"/><rect x="725.72" y="442.3" width="1.05" height="101.1" fill="#f3634a"/><rect x="725.77" y="442.3" width="2.50" height="101.1" fill="#39b284"/><rect x="728.22" y="442.3" width="1.05" height="101.1" fill="#39b284"/><rect x="728.27" y="439.1" width="2.50" height="104.3" fill="#f3634a"/><rect x="730.72" y="440.3" width="1.05" height="103.1" fill="#f3634a"/><rect x="730.77" y="440.3" width="2.50" height="103.1" fill="#39b284"/><rect x="733.21" y="441.3" width="1.05" height="102.1" fill="#39b284"/><rect x="733.26" y="441.3" width="2.50" height="102.1" fill="#39b284"/><rect x="735.71" y="441.7" width="1.05" height="101.7" fill="#39b284"/><rect x="735.76" y="441.7" width="2.50" height="101.7" fill="#39b284"/><rect x="738.21" y="442.5" width="1.05" height="100.9" fill="#39b284"/><rect x="738.26" y="442.5" width="2.50" height="100.9" fill="#39b284"/><rect x="740.70" y="443.5" width="1.05" height="99.9" fill="#39b284"/><rect x="740.75" y="443.5" width="2.50" height="99.9" fill="#39b284"/><rect x="743.20" y="444.0" width="1.05" height="99.4" fill="#39b284"/><rect x="743.25" y="444.0" width="2.50" height="99.4" fill="#f3634a"/><rect x="745.70" y="444.0" width="1.05" height="99.4" fill="#f3634a"/><rect x="745.75" y="440.7" width="2.50" height="102.7" fill="#f3634a"/><rect x="748.19" y="440.7" width="1.05" height="102.7" fill="#f3634a"/><rect x="748.24" y="440.7" width="2.50" height="102.7" fill="#f3634a"/><rect x="750.69" y="442.5" width="1.05" height="100.9" fill="#f3634a"/><rect x="750.74" y="442.5" width="2.50" height="100.9" fill="#39b284"/><rect x="753.19" y="442.8" width="1.05" height="100.6" fill="#39b284"/><rect x="753.24" y="442.8" width="2.50" height="100.6" fill="#f3634a"/><rect x="755.68" y="442.8" width="1.05" height="100.6" fill="#f3634a"/><rect x="755.73" y="442.5" width="2.50" height="100.9" fill="#f3634a"/><rect x="758.18" y="442.5" width="1.05" height="100.9" fill="#f3634a"/><rect x="758.23" y="439.8" width="2.50" height="103.6" fill="#f3634a"/><rect x="760.68" y="439.8" width="1.05" height="103.6" fill="#f3634a"/><rect x="760.73" y="439.5" width="2.50" height="103.9" fill="#f3634a"/><rect x="763.17" y="439.8" width="1.05" height="103.6" fill="#f3634a"/><rect x="763.22" y="439.8" width="2.50" height="103.6" fill="#39b284"/><rect x="765.67" y="444.0" width="1.05" height="99.4" fill="#39b284"/><rect x="765.72" y="444.0" width="2.50" height="99.4" fill="#39b284"/><rect x="768.16" y="444.0" width="1.05" height="99.4" fill="#39b284"/><rect x="768.21" y="441.9" width="2.50" height="101.5" fill="#f3634a"/><rect x="770.66" y="444.7" width="1.05" height="98.7" fill="#f3634a"/><rect x="770.71" y="444.7" width="2.50" height="98.7" fill="#39b284"/><rect x="773.16" y="445.0" width="1.05" height="98.4" fill="#39b284"/><rect x="773.21" y="445.0" width="2.50" height="98.4" fill="#39b284"/><rect x="775.65" y="445.0" width="1.05" height="98.4" fill="#39b284"/><rect x="775.70" y="444.4" width="2.50" height="99.0" fill="#f3634a"/><rect x="778.15" y="444.4" width="1.05" height="99.0" fill="#f3634a"/><rect x="778.20" y="441.9" width="2.50" height="101.5" fill="#f3634a"/><rect x="780.65" y="442.3" width="1.05" height="101.1" fill="#f3634a"/><rect x="780.70" y="442.3" width="2.50" height="101.1" fill="#39b284"/><rect x="783.14" y="442.3" width="1.05" height="101.1" fill="#39b284"/><rect x="783.19" y="441.9" width="2.50" height="101.5" fill="#f3634a"/><rect x="785.64" y="444.4" width="1.05" height="99.0" fill="#f3634a"/><rect x="785.69" y="444.4" width="2.50" height="99.0" fill="#39b284"/><rect x="788.14" y="444.4" width="1.05" height="99.0" fill="#39b284"/><rect x="788.19" y="442.8" width="2.50" height="100.6" fill="#f3634a"/><rect x="790.63" y="444.7" width="1.05" height="98.7" fill="#f3634a"/><rect x="790.68" y="444.7" width="2.50" height="98.7" fill="#39b284"/><rect x="793.13" y="444.7" width="1.05" height="98.7" fill="#39b284"/><rect x="793.18" y="443.1" width="2.50" height="100.3" fill="#f3634a"/><rect x="795.63" y="445.2" width="1.05" height="98.2" fill="#f3634a"/><rect x="795.68" y="445.2" width="2.50" height="98.2" fill="#39b284"/><rect x="798.12" y="445.2" width="1.05" height="98.2" fill="#39b284"/><rect x="798.17" y="445.0" width="2.50" height="98.4" fill="#f3634a"/><rect x="800.62" y="445.0" width="1.05" height="98.4" fill="#f3634a"/><rect x="800.67" y="444.0" width="2.50" height="99.4" fill="#f3634a"/><rect x="803.12" y="444.0" width="1.05" height="99.4" fill="#f3634a"/><rect x="803.17" y="443.7" width="2.50" height="99.7" fill="#f3634a"/><rect x="805.61" y="443.7" width="1.05" height="99.7" fill="#f3634a"/><rect x="805.66" y="440.9" width="2.50" height="102.5" fill="#f3634a"/><rect x="808.11" y="443.1" width="1.05" height="100.3" fill="#f3634a"/><rect x="808.16" y="443.1" width="2.50" height="100.3" fill="#39b284"/><rect x="810.61" y="443.1" width="1.05" height="100.3" fill="#39b284"/><rect x="810.66" y="442.8" width="2.50" height="100.6" fill="#f3634a"/><rect x="813.10" y="444.0" width="1.05" height="99.4" fill="#f3634a"/><rect x="813.15" y="444.0" width="2.50" height="99.4" fill="#39b284"/><rect x="815.60" y="446.4" width="1.05" height="97.0" fill="#39b284"/><rect x="815.65" y="446.4" width="2.50" height="97.0" fill="#39b284"/><rect x="818.10" y="446.4" width="1.05" height="97.0" fill="#39b284"/><rect x="818.15" y="445.6" width="2.50" height="97.8" fill="#f3634a"/><rect x="820.59" y="447.7" width="1.05" height="95.7" fill="#f3634a"/><rect x="820.64" y="447.7" width="2.50" height="95.7" fill="#39b284"/><rect x="823.09" y="449.2" width="1.05" height="94.2" fill="#39b284"/><rect x="823.14" y="449.2" width="2.50" height="94.2" fill="#39b284"/><rect x="825.58" y="449.2" width="1.05" height="94.2" fill="#39b284"/><rect x="825.63" y="448.6" width="2.50" height="94.8" fill="#f3634a"/><rect x="828.08" y="450.8" width="1.05" height="92.6" fill="#f3634a"/><rect x="828.13" y="450.8" width="2.50" height="92.6" fill="#39b284"/><rect x="830.58" y="454.1" width="1.05" height="89.3" fill="#39b284"/><rect x="830.63" y="454.1" width="2.50" height="89.3" fill="#39b284"/><rect x="833.07" y="454.1" width="1.05" height="89.3" fill="#39b284"/><rect x="833.12" y="444.4" width="2.50" height="99.0" fill="#f3634a"/><rect x="835.57" y="444.4" width="1.05" height="99.0" fill="#f3634a"/><rect x="835.62" y="441.9" width="2.50" height="101.5" fill="#f3634a"/><rect x="838.07" y="441.9" width="1.05" height="101.5" fill="#f3634a"/><rect x="838.12" y="437.9" width="2.50" height="105.5" fill="#f3634a"/><rect x="840.56" y="437.9" width="1.05" height="105.5" fill="#f3634a"/><rect x="840.61" y="436.7" width="2.50" height="106.7" fill="#f3634a"/><rect x="843.06" y="436.7" width="1.05" height="106.7" fill="#f3634a"/><rect x="843.11" y="435.4" width="2.50" height="108.0" fill="#f3634a"/><rect x="845.56" y="438.6" width="1.05" height="104.8" fill="#f3634a"/><rect x="845.61" y="438.6" width="2.50" height="104.8" fill="#39b284"/><rect x="848.05" y="440.3" width="1.05" height="103.1" fill="#39b284"/><rect x="848.10" y="440.3" width="2.50" height="103.1" fill="#39b284"/><g fill="#fff"><rect x="248.93" y="486.5" width="0.00" height="56.9"/><rect x="251.43" y="487.3" width="0.00" height="56.1"/><rect x="253.92" y="488.5" width="0.01" height="54.9"/><rect x="256.42" y="487.3" width="0.01" height="56.1"/><rect x="258.91" y="489.3" width="0.01" height="54.1"/><rect x="261.40" y="490.3" width="0.01" height="53.1"/><rect x="263.90" y="489.7" width="0.02" height="53.7"/><rect x="266.39" y="488.1" width="0.02" height="55.3"/><rect x="268.89" y="489.7" width="0.02" height="53.7"/><rect x="271.38" y="490.3" width="0.02" height="53.1"/><rect x="273.87" y="492.1" width="0.03" height="51.3"/><rect x="276.37" y="495.8" width="0.03" height="47.6"/><rect x="278.86" y="497.6" width="0.03" height="45.8"/><rect x="281.36" y="497.6" width="0.03" height="45.8"/><rect x="283.85" y="495.4" width="0.04" height="48.0"/><rect x="286.34" y="497.0" width="0.04" height="46.4"/><rect x="288.84" y="497.0" width="0.04" height="46.4"/><rect x="291.33" y="499.1" width="0.04" height="44.3"/><rect x="293.83" y="499.5" width="0.05" height="43.9"/><rect x="296.32" y="499.1" width="0.05" height="44.3"/><rect x="298.81" y="498.9" width="0.05" height="44.5"/><rect x="301.31" y="496.8" width="0.05" height="46.6"/><rect x="303.80" y="496.2" width="0.06" height="47.2"/><rect x="306.30" y="498.3" width="0.06" height="45.1"/><rect x="308.79" y="498.9" width="0.06" height="44.5"/><rect x="311.29" y="497.0" width="0.06" height="46.4"/><rect x="313.78" y="499.1" width="0.07" height="44.3"/><rect x="316.27" y="500.3" width="0.07" height="43.1"/><rect x="318.77" y="501.3" width="0.07" height="42.1"/><rect x="321.26" y="501.5" width="0.07" height="41.9"/><rect x="323.76" y="501.5" width="0.08" height="41.9"/><rect x="326.25" y="505.2" width="0.08" height="38.2"/><rect x="328.74" y="506.2" width="0.08" height="37.2"/><rect x="331.24" y="505.2" width="0.08" height="38.2"/><rect x="333.73" y="508.4" width="0.09" height="35.0"/><rect x="336.23" y="508.6" width="0.09" height="34.8"/><rect x="338.72" y="509.9" width="0.09" height="33.5"/><rect x="341.21" y="509.2" width="0.09" height="34.2"/><rect x="343.71" y="511.3" width="0.10" height="32.1"/><rect x="346.20" y="509.0" width="0.10" height="34.4"/><rect x="348.70" y="509.2" width="0.10" height="34.2"/><rect x="351.19" y="511.1" width="0.10" height="32.3"/><rect x="353.68" y="512.9" width="0.11" height="30.5"/><rect x="356.18" y="511.1" width="0.11" height="32.3"/><rect x="358.67" y="514.1" width="0.11" height="29.3"/><rect x="361.17" y="512.9" width="0.11" height="30.5"/><rect x="363.66" y="513.3" width="0.12" height="30.1"/><rect x="366.15" y="514.1" width="0.12" height="29.3"/><rect x="368.65" y="512.5" width="0.12" height="30.9"/><rect x="371.14" y="515.3" width="0.12" height="28.1"/><rect x="373.64" y="515.7" width="0.13" height="27.7"/><rect x="376.13" y="514.1" width="0.13" height="29.3"/><rect x="378.62" y="515.7" width="0.13" height="27.7"/><rect x="381.12" y="517.8" width="0.13" height="25.6"/><rect x="383.61" y="517.4" width="0.14" height="26.0"/><rect x="386.11" y="517.2" width="0.14" height="26.2"/><rect x="388.60" y="515.0" width="0.14" height="28.4"/><rect x="391.09" y="516.2" width="0.14" height="27.2"/><rect x="393.59" y="513.5" width="0.15" height="29.9"/><rect x="396.08" y="513.3" width="0.15" height="30.1"/><rect x="398.58" y="514.1" width="0.15" height="29.3"/><rect x="401.07" y="514.5" width="0.15" height="28.9"/><rect x="403.56" y="516.2" width="0.16" height="27.2"/><rect x="406.06" y="516.9" width="0.16" height="26.5"/><rect x="408.55" y="518.2" width="0.16" height="25.2"/><rect x="411.05" y="517.2" width="0.16" height="26.2"/><rect x="413.54" y="517.8" width="0.17" height="25.6"/><rect x="416.03" y="520.2" width="0.17" height="23.2"/><rect x="418.53" y="519.0" width="0.17" height="24.4"/><rect x="421.02" y="517.8" width="0.17" height="25.6"/><rect x="423.52" y="517.8" width="0.18" height="25.6"/><rect x="426.01" y="517.8" width="0.18" height="25.6"/><rect x="428.50" y="517.8" width="0.18" height="25.6"/><rect x="431.00" y="519.0" width="0.18" height="24.4"/><rect x="433.49" y="519.0" width="0.19" height="24.4"/><rect x="435.99" y="519.6" width="0.19" height="23.8"/><rect x="438.48" y="516.9" width="0.19" height="26.5"/><rect x="440.97" y="516.6" width="0.19" height="26.8"/><rect x="443.47" y="518.6" width="0.20" height="24.8"/><rect x="445.96" y="518.4" width="0.20" height="25.0"/><rect x="448.46" y="516.2" width="0.20" height="27.2"/><rect x="450.95" y="516.0" width="0.20" height="27.4"/><rect x="453.44" y="517.2" width="0.21" height="26.2"/><rect x="455.94" y="518.2" width="0.21" height="25.2"/><rect x="458.43" y="516.2" width="0.21" height="27.2"/><rect x="460.93" y="516.2" width="0.21" height="27.2"/><rect x="463.42" y="517.8" width="0.22" height="25.6"/><rect x="465.92" y="515.3" width="0.22" height="28.1"/><rect x="468.41" y="516.9" width="0.22" height="26.5"/><rect x="470.90" y="518.2" width="0.22" height="25.2"/><rect x="473.40" y="516.6" width="0.23" height="26.8"/><rect x="475.89" y="514.7" width="0.23" height="28.7"/><rect x="478.39" y="516.6" width="0.23" height="26.8"/><rect x="480.88" y="513.8" width="0.23" height="29.6"/><rect x="483.38" y="514.7" width="0.23" height="28.7"/><rect x="485.87" y="514.7" width="0.23" height="28.7"/><rect x="488.37" y="516.0" width="0.23" height="27.4"/><rect x="490.87" y="515.3" width="0.23" height="28.1"/><rect x="493.36" y="516.9" width="0.23" height="26.5"/><rect x="495.86" y="514.1" width="0.23" height="29.3"/><rect x="498.36" y="513.3" width="0.23" height="30.1"/><rect x="500.85" y="512.9" width="0.23" height="30.5"/><rect x="503.35" y="513.5" width="0.23" height="29.9"/><rect x="505.85" y="516.6" width="0.23" height="26.8"/><rect x="508.34" y="515.3" width="0.23" height="28.1"/><rect x="510.84" y="514.1" width="0.23" height="29.3"/><rect x="513.34" y="517.2" width="0.23" height="26.2"/><rect x="515.83" y="516.6" width="0.23" height="26.8"/><rect x="518.33" y="514.5" width="0.23" height="28.9"/><rect x="520.83" y="511.7" width="0.23" height="31.7"/><rect x="523.32" y="513.3" width="0.23" height="30.1"/><rect x="525.82" y="509.0" width="0.23" height="34.4"/><rect x="528.32" y="510.5" width="0.23" height="32.9"/><rect x="530.81" y="510.1" width="0.23" height="33.3"/><rect x="533.31" y="512.3" width="0.23" height="31.1"/><rect x="535.81" y="510.8" width="0.23" height="32.6"/><rect x="538.30" y="510.8" width="0.23" height="32.6"/><rect x="540.80" y="510.8" width="0.23" height="32.6"/><rect x="543.29" y="515.3" width="0.23" height="28.1"/><rect x="545.79" y="514.1" width="0.23" height="29.3"/><rect x="548.29" y="514.7" width="0.23" height="28.7"/><rect x="550.78" y="514.5" width="0.23" height="28.9"/><rect x="553.28" y="513.9" width="0.23" height="29.5"/><rect x="555.78" y="511.3" width="0.23" height="32.1"/><rect x="558.27" y="505.6" width="0.23" height="37.8"/><rect x="560.77" y="492.1" width="0.23" height="51.3"/><rect x="563.27" y="484.2" width="0.23" height="59.2"/><rect x="565.76" y="482.2" width="0.23" height="61.2"/><rect x="568.26" y="476.7" width="0.23" height="66.7"/><rect x="570.76" y="475.5" width="0.23" height="67.9"/><rect x="573.25" y="472.8" width="0.23" height="70.6"/><rect x="575.75" y="467.9" width="0.23" height="75.5"/><rect x="578.25" y="465.7" width="0.23" height="77.7"/><rect x="580.74" y="464.3" width="0.23" height="79.1"/><rect x="583.24" y="459.4" width="0.23" height="84.0"/><rect x="585.74" y="458.2" width="0.23" height="85.2"/><rect x="588.23" y="455.7" width="0.23" height="87.7"/><rect x="590.73" y="455.0" width="0.23" height="88.4"/><rect x="593.23" y="454.1" width="0.23" height="89.3"/><rect x="595.72" y="451.1" width="0.23" height="92.3"/><rect x="598.22" y="449.9" width="0.23" height="93.5"/><rect x="600.72" y="447.4" width="0.23" height="96.0"/><rect x="603.21" y="449.2" width="0.23" height="94.2"/><rect x="605.71" y="446.4" width="0.23" height="97.0"/><rect x="608.20" y="445.0" width="0.23" height="98.4"/><rect x="610.70" y="443.5" width="0.23" height="99.9"/><rect x="613.20" y="444.4" width="0.23" height="99.0"/><rect x="615.69" y="440.7" width="0.23" height="102.7"/><rect x="618.19" y="437.0" width="0.23" height="106.4"/><rect x="620.69" y="436.2" width="0.23" height="107.2"/><rect x="623.18" y="434.3" width="0.23" height="109.1"/><rect x="625.68" y="433.7" width="0.23" height="109.7"/><rect x="628.18" y="430.9" width="0.23" height="112.5"/><rect x="630.67" y="426.9" width="0.23" height="116.5"/><rect x="633.17" y="426.7" width="0.23" height="116.7"/><rect x="635.67" y="424.8" width="0.23" height="118.6"/><rect x="638.16" y="424.2" width="0.23" height="119.2"/><rect x="640.66" y="424.0" width="0.23" height="119.4"/><rect x="643.16" y="421.2" width="0.23" height="122.2"/><rect x="645.65" y="423.6" width="0.23" height="119.8"/><rect x="648.15" y="421.8" width="0.23" height="121.6"/><rect x="650.65" y="426.0" width="0.23" height="117.4"/><rect x="653.14" y="427.3" width="0.23" height="116.1"/><rect x="655.64" y="424.0" width="0.23" height="119.4"/><rect x="658.14" y="420.5" width="0.23" height="122.9"/><rect x="660.63" y="419.3" width="0.23" height="124.1"/><rect x="663.13" y="420.5" width="0.23" height="122.9"/><rect x="665.62" y="420.3" width="0.23" height="123.1"/><rect x="668.12" y="422.4" width="0.23" height="121.0"/><rect x="670.62" y="426.7" width="0.23" height="116.7"/><rect x="673.11" y="429.7" width="0.23" height="113.7"/><rect x="675.61" y="436.2" width="0.23" height="107.2"/><rect x="678.11" y="438.9" width="0.23" height="104.5"/><rect x="680.60" y="439.1" width="0.23" height="104.3"/><rect x="683.10" y="441.9" width="0.23" height="101.5"/><rect x="685.60" y="442.5" width="0.23" height="100.9"/><rect x="688.09" y="441.3" width="0.23" height="102.1"/><rect x="690.59" y="439.1" width="0.23" height="104.3"/><rect x="693.09" y="441.1" width="0.23" height="102.3"/><rect x="695.58" y="441.1" width="0.23" height="102.3"/><rect x="698.08" y="441.9" width="0.23" height="101.5"/><rect x="700.58" y="440.3" width="0.23" height="103.1"/><rect x="703.07" y="441.5" width="0.23" height="101.9"/><rect x="705.57" y="440.7" width="0.23" height="102.7"/><rect x="708.07" y="440.3" width="0.23" height="103.1"/><rect x="710.56" y="441.1" width="0.23" height="102.3"/><rect x="713.06" y="440.7" width="0.23" height="102.7"/><rect x="715.56" y="439.8" width="0.23" height="103.6"/><rect x="718.05" y="438.6" width="0.23" height="104.8"/><rect x="720.55" y="441.3" width="0.23" height="102.1"/><rect x="723.04" y="441.7" width="0.23" height="101.7"/><rect x="725.54" y="441.9" width="0.23" height="101.5"/><rect x="728.04" y="442.3" width="0.23" height="101.1"/><rect x="730.53" y="439.1" width="0.23" height="104.3"/><rect x="733.03" y="440.3" width="0.23" height="103.1"/><rect x="735.53" y="441.3" width="0.23" height="102.1"/><rect x="738.02" y="441.7" width="0.23" height="101.7"/><rect x="740.52" y="442.5" width="0.23" height="100.9"/><rect x="743.02" y="443.5" width="0.23" height="99.9"/><rect x="745.51" y="444.0" width="0.23" height="99.4"/><rect x="748.01" y="440.7" width="0.23" height="102.7"/><rect x="750.51" y="440.7" width="0.23" height="102.7"/><rect x="753.00" y="442.5" width="0.23" height="100.9"/><rect x="755.50" y="442.8" width="0.23" height="100.6"/><rect x="758.00" y="442.5" width="0.23" height="100.9"/><rect x="760.49" y="439.8" width="0.23" height="103.6"/><rect x="762.99" y="439.5" width="0.23" height="103.9"/><rect x="765.49" y="439.8" width="0.23" height="103.6"/><rect x="767.98" y="444.0" width="0.23" height="99.4"/><rect x="770.48" y="441.9" width="0.23" height="101.5"/><rect x="772.98" y="444.7" width="0.23" height="98.7"/><rect x="775.47" y="445.0" width="0.23" height="98.4"/><rect x="777.97" y="444.4" width="0.23" height="99.0"/><rect x="780.47" y="441.9" width="0.23" height="101.5"/><rect x="782.96" y="442.3" width="0.23" height="101.1"/><rect x="785.46" y="441.9" width="0.23" height="101.5"/><rect x="787.95" y="444.4" width="0.23" height="99.0"/><rect x="790.45" y="442.8" width="0.23" height="100.6"/><rect x="792.95" y="444.7" width="0.23" height="98.7"/><rect x="795.44" y="443.1" width="0.23" height="100.3"/><rect x="797.94" y="445.2" width="0.23" height="98.2"/><rect x="800.44" y="445.0" width="0.23" height="98.4"/><rect x="802.93" y="444.0" width="0.23" height="99.4"/><rect x="805.43" y="443.7" width="0.23" height="99.7"/><rect x="807.93" y="440.9" width="0.23" height="102.5"/><rect x="810.42" y="443.1" width="0.23" height="100.3"/><rect x="812.92" y="442.8" width="0.23" height="100.6"/><rect x="815.42" y="444.0" width="0.23" height="99.4"/><rect x="817.91" y="446.4" width="0.23" height="97.0"/><rect x="820.41" y="445.6" width="0.23" height="97.8"/><rect x="822.91" y="447.7" width="0.23" height="95.7"/><rect x="825.40" y="449.2" width="0.23" height="94.2"/><rect x="827.90" y="448.6" width="0.23" height="94.8"/><rect x="830.40" y="450.8" width="0.23" height="92.6"/><rect x="832.89" y="454.1" width="0.23" height="89.3"/><rect x="835.39" y="444.4" width="0.23" height="99.0"/><rect x="837.89" y="441.9" width="0.23" height="101.5"/><rect x="840.38" y="437.9" width="0.23" height="105.5"/><rect x="842.88" y="436.7" width="0.23" height="106.7"/><rect x="845.37" y="435.4" width="0.23" height="108.0"/><rect x="847.87" y="438.6" width="0.23" height="104.8"/><rect x="850.37" y="440.3" width="0.23" height="103.1"/></g>
<rect x="131.3" y="543" width="722.5" height="1.1" fill="#3a3a3a"/>
<g fill="#3a3a3a">
<rect x="206.4" y="543" width="1.1" height="5.8"/>
<rect x="353.9" y="543" width="1.1" height="5.8"/>
<rect x="500.4" y="543" width="1.1" height="5.8"/>
<rect x="647.4" y="543" width="1.1" height="5.8"/>
<rect x="777.4" y="543" width="1.1" height="5.8"/>
</g>
<path d="M132.3 400.2 L135.8 393.3 L137.6 391.0 L138.9 397.1 L140.4 407.1 L143.0 413.2 L146.0 416.7 L148.6 417.3 L150.6 414.7 L152.9 407.8 L154.9 402.0 L156.2 409.3 L157.8 416.7 L159.8 413.2 L162.8 409.0 L165.1 402.9 L167.4 397.1 L170.0 395.9 L172.7 389.2 L175.3 390.0 L177.6 379.6 L179.9 366.3 L181.9 372.4 L183.7 374.3 L186.8 373.5 L188.4 368.9 L190.3 360.5 L192.6 359.8 L194.9 354.0 L196.4 359.0 L198.7 362.5 L202.5 364.8 L205.5 363.9 L207.8 361.3 L209.3 354.4 L210.6 351.7 L212.4 352.9 L214.7 353.7 L217.3 346.5 L219.7 344.0 L222.0 338.4 L224.6 335.3 L226.4 336.9 L229.2 341.4 L231.9 342.2 L234.5 346.5 L237.1 348.6 L239.6 344.5 L242.2 342.5 L244.4 341.9 L246.7 346.0 L249.8 345.3 L252.1 349.1 L253.9 349.8 L257.4 347.5 L259.7 344.5 L262.8 347.1 L265.8 343.0 L267.6 342.5 L269.6 346.5 L271.9 346.0 L274.7 348.6 L274.9 348.7 L277.3 341.9 L279.6 335.8 L282.5 341.1 L285.3 337.6 L288.0 334.7 L291.4 333.8 L294.7 333.9 L297.5 330.9 L298.7 320.5 L300.2 312.9 L302.0 320.5 L304.3 322.0 L307.4 322.8 L310.0 328.5 L312.7 331.5 L315.0 336.5 L317.3 336.5 L320.1 332.7 L322.2 331.2 L324.9 333.5 L327.5 335.0 L330.0 341.9 L332.6 343.4 L334.9 348.0 L337.1 348.3 L339.0 340.4 L339.9 335.0 L342.5 333.9 L344.5 326.3 L347.5 328.5 L349.3 326.6 L352.4 327.1 L355.1 324.3 L357.3 324.3 L360.0 329.4 L362.3 320.2 L364.6 318.7 L367.4 319.0 L369.9 325.9 L372.5 326.3 L376.1 328.6 L378.0 327.4 L379.9 319.8 L382.2 328.1 L384.4 331.5 L387.2 333.5 L389.8 336.5 L392.1 335.5 L394.8 331.5 L397.4 330.4 L400.2 327.4 L402.5 328.1 L405.8 332.0 L408.9 333.2 L410.0 333.5 L412.3 335.0 L414.6 335.8 L417.3 340.4 L419.9 334.3 L422.5 330.9 L424.5 330.4 L427.5 331.5 L429.8 327.7 L432.1 334.3 L435.2 336.5 L438.2 339.6 L442.0 344.9 L444.8 350.7 L447.8 344.9 L450.0 342.6 L452.4 339.6 L455.0 341.9 L458.8 346.5 L461.9 351.8 L464.6 350.3 L466.8 356.4 L470.3 355.6 L473.3 358.7 L474.9 361.4 L477.1 362.5 L479.6 372.9 L481.7 365.5 L484.8 364.0 L487.1 351.0 L489.0 344.2 L492.1 344.6 L494.2 324.3 L496.7 323.3 L499.3 330.0 L502.3 330.4 L505.4 334.6 L507.7 334.6 L509.5 325.4 L511.9 330.9 L514.5 329.7 L516.8 317.5 L519.4 304.0 L522.2 312.1 L524.8 300.4 L527.5 306.0 L529.8 310.1 L533.6 309.4 L537.0 312.1 L539.7 309.1 L542.0 299.9 L544.6 306.0 L546.6 301.4 L549.6 305.0 L552.7 290.0 L553.7 275.0 L556.5 252.1 L558.3 224.7 L559.5 203.3 L562.1 207.1 L564.7 207.6 L567.2 220.9 L569.8 222.4 L572.0 246.8 L574.3 227.0 L576.6 214.8 L579.4 208.7 L582.0 216.7 L584.6 212.5 L587.3 205.6 L589.6 195.4 L591.9 217.0 L594.2 220.4 L597.2 219.8 L599.8 228.5 L602.3 233.1 L604.4 243.7 L607.9 241.5 L609.9 243.0 L612.5 254.4 L614.8 278.7 L617.8 289.3 L620.1 297.7 L622.1 308.7 L624.7 297.7 L627.0 295.4 L629.6 271.8 L631.6 281.7 L634.3 282.8 L637.4 283.2 L639.5 287.8 L642.2 284.5 L644.5 284.0 L646.8 284.5 L649.1 280.9 L651.9 276.7 L654.1 297.4 L656.7 297.4 L659.3 295.0 L662.1 289.3 L664.8 284.3 L667.4 284.8 L669.7 290.9 L671.5 299.3 L674.0 293.9 L676.6 309.2 L679.2 282.8 L682.3 287.4 L685.3 298.8 L687.6 311.0 L689.5 317.9 L691.9 319.0 L694.5 309.5 L696.8 301.1 L699.1 297.6 L702.1 298.1 L704.4 295.0 L706.7 311.8 L709.0 310.3 L711.7 308.0 L714.3 308.4 L716.9 312.3 L719.4 302.6 L722.0 295.0 L724.3 291.2 L726.5 291.2 L729.1 277.5 L731.9 281.3 L734.6 281.3 L736.8 282.0 L739.2 270.6 L741.8 275.2 L744.1 280.5 L747.1 282.8 L749.4 286.6 L751.7 282.5 L754.5 293.9 L756.8 292.7 L759.3 285.9 L761.9 295.8 L764.2 296.2 L766.7 299.6 L769.0 290.4 L770.8 288.1 L772.8 289.7 L774.6 295.0 L777.2 292.4 L779.5 295.8 L781.8 290.0 L784.5 307.2 L787.3 306.5 L789.6 309.2 L792.2 308.0 L794.4 310.0 L796.7 311.5 L799.3 321.4 L801.8 319.4 L803.9 320.7 L806.3 314.1 L808.6 315.3 L811.5 303.7 L814.0 309.5 L816.6 308.0 L819.2 314.1 L821.9 310.3 L824.2 307.2 L826.8 301.9 L829.4 307.0 L832.1 312.5 L833.0 339.9 L833.9 367.7 L836.3 355.5 L838.9 363.7 L841.8 352.7 L843.6 368.3 L845.8 374.7 L848.6 379.8 L851.9 383.3" fill="none" stroke="#4393ec" stroke-width="2.5" stroke-linejoin="round" stroke-linecap="round"/>
<rect x="133.5" y="599" width="724" height="2" fill="#dfe2ea"/>
<rect x="133.2" y="598.4" width="1.5" height="3" fill="#8fb0f0"/>
<rect x="856.3" y="598.4" width="1.5" height="3" fill="#8fb0f0"/>
</g>
<g font-family="'Liberation Sans','Noto Sans CJK SC',sans-serif" font-size="15">
<g fill="#4a9be8" text-anchor="end" letter-spacing="0.25">
<text x="121.6" y="171">27,400.0</text>
<text x="121.6" y="221">27,300.0</text>
<text x="121.6" y="271">27,200.0</text>
<text x="121.6" y="321">27,100.0</text>
<text x="121.6" y="371">27,000.0</text>
</g>
<text x="58" y="144.5" fill="#4a9be8" font-size="16">USD价格</text>
<g fill="#7a7a7a" text-anchor="end" letter-spacing="0.2">
<text x="124.4" y="394.6" font-size="16.4">成交额</text>
<text x="122" y="421">50亿</text>
<text x="122" y="524">41.77亿</text>
<text x="122" y="546">40亿</text>
</g>
<g fill="#444" text-anchor="middle">
<text x="132.8" y="568.7" letter-spacing="0.45">2023-05-14 08:55</text>
<text x="280" y="568.7">13:50</text>
<text x="427" y="568.7">18:45</text>
<text x="574" y="568.7">23:40</text>
<text x="721" y="568.7">04:35</text>
<text x="851.2" y="568.7">08:55</text>
</g>
</g>
</svg>
</body></html>
